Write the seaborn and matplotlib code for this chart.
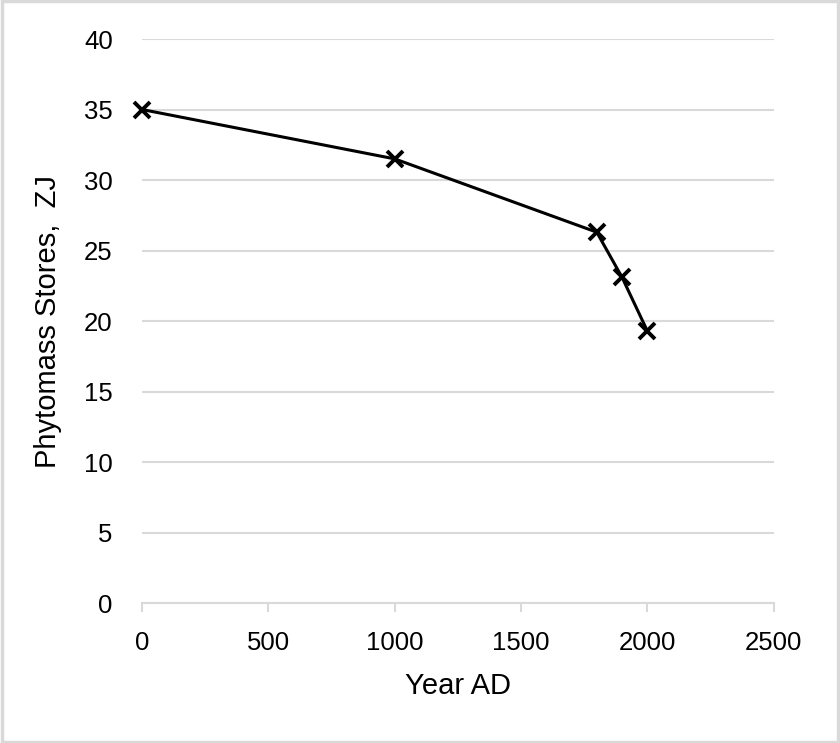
import pandas as pd
import matplotlib.pyplot as plt
import seaborn as sns
from matplotlib.patches import Rectangle

# Values
years = [0, 1000, 1800, 1900, 2000]
phytomass = [35.0, 31.5, 26.3, 23.1, 19.3]

data = pd.DataFrame({'year': years, 'phytomass': phytomass})

sns.set_style('white')
plt.rcParams['font.family'] = ['Liberation Sans', 'DejaVu Sans']
plt.rcParams['text.color'] = 'black'
plt.rcParams['axes.labelcolor'] = 'black'

fig = plt.figure(figsize=(8.4, 7.43), dpi=100)
ax = fig.add_axes([0.169, 0.1884, 0.752, 0.7591])

sns.lineplot(data=data, x='year', y='phytomass', ax=ax, color='black',
             linewidth=2.2, marker='x', markersize=11, markeredgewidth=2.8,
             markeredgecolor='black', clip_on=False)

ax.set_xlim(0, 2500)
ax.set_ylim(0, 40)
ax.set_xticks(range(0, 2501, 500))
ax.set_yticks(range(0, 41, 5))
ax.grid(axis='y', color='#d9d9d9', linewidth=1.5)
ax.set_axisbelow(True)

for side in ['left', 'top', 'right']:
    ax.spines[side].set_visible(False)
ax.spines['bottom'].set_color('#d9d9d9')
ax.spines['bottom'].set_linewidth(1.5)

ax.tick_params(axis='x', bottom=True, direction='out', length=6.5, width=1.5,
               color='#d9d9d9', labelcolor='black', labelsize=18.5, pad=14)
ax.tick_params(axis='y', left=False, length=0, labelcolor='black', labelsize=18.5, pad=21)

ax.set_xlabel('Year AD', fontsize=21, labelpad=12)
ax.set_ylabel('Phytomass Stores,  ZJ', fontsize=21, labelpad=16)

# light grey frame around the whole chart
fig.patches.append(Rectangle((0.002, 0.002), 0.996, 0.996, transform=fig.transFigure,
                             fill=False, edgecolor='#d9d9d9', linewidth=2.5))

plt.savefig('out.png', dpi=100)
